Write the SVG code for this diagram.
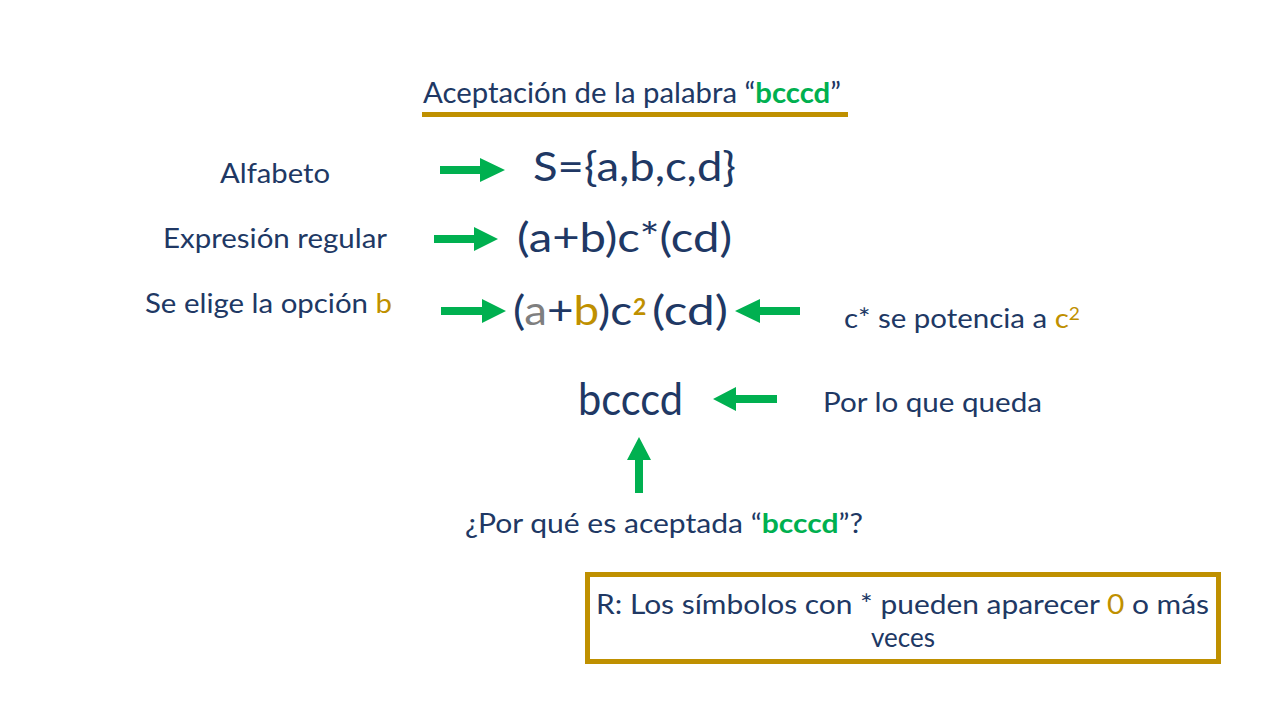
<svg xmlns="http://www.w3.org/2000/svg" width="1280" height="720" viewBox="0 0 1280 720">
<style>
text{font-family:Lato,"Open Sans","Noto Sans",sans-serif;fill:#203864}
.g{fill:#00B050}
.o{fill:#BF9000}
.gr{fill:#7F7F7F}
.b{font-weight:bold}
.arrow{fill:#00B050}
</style>
<rect width="1280" height="720" fill="#fff"/>
<g id="title">
<text x="423" y="103" font-size="28" textLength="418" lengthAdjust="spacingAndGlyphs">Aceptación de la palabra “<tspan class="g b">bcccd</tspan>”</text>
<rect x="422" y="112" width="426" height="5" fill="#BF9000"/>
</g>
<g id="alfabeto-label"><text x="220" y="183" font-size="26" textLength="110" lengthAdjust="spacingAndGlyphs">Alfabeto</text></g>
<g id="alfabeto"><text x="533" y="181" font-size="40" textLength="203" lengthAdjust="spacingAndGlyphs">S={a,b,c,d}</text></g>
<g id="expresion-label"><text x="163" y="248" font-size="26" textLength="224" lengthAdjust="spacingAndGlyphs">Expresión regular</text></g>
<g id="expresion"><text x="517" y="252" font-size="40" textLength="215" lengthAdjust="spacingAndGlyphs">(a+b)c*(cd)</text></g>
<g id="opcion-label"><text x="145" y="313" font-size="26" textLength="247" lengthAdjust="spacingAndGlyphs">Se elige la opción <tspan class="o">b</tspan></text></g>
<g id="opcion">
<text x="513" y="325" font-size="40" textLength="119" lengthAdjust="spacingAndGlyphs">(<tspan class="gr">a</tspan>+<tspan class="o">b</tspan>)c</text>
<text x="633" y="315" font-size="23" class="o b">2</text>
<text x="652" y="325" font-size="40" textLength="76" lengthAdjust="spacingAndGlyphs">(cd)</text>
</g>
<g id="potencia-label"><text x="844" y="328" font-size="26" textLength="236" lengthAdjust="spacingAndGlyphs">c* se potencia a <tspan class="o">c</tspan><tspan class="o" font-size="17" dy="-8">2</tspan></text></g>
<g id="resultado"><text x="578" y="415" font-size="44" textLength="105" lengthAdjust="spacingAndGlyphs">bcccd</text></g>
<g id="queda-label"><text x="823" y="412" font-size="26" textLength="219" lengthAdjust="spacingAndGlyphs">Por lo que queda</text></g>
<g id="pregunta"><text x="465" y="533" font-size="26" textLength="398" lengthAdjust="spacingAndGlyphs">¿Por qué es aceptada “<tspan class="g b">bcccd</tspan>”?</text></g>
<g id="respuesta">
<rect x="587.5" y="574.5" width="631" height="87" fill="#fff" stroke="#BF9000" stroke-width="5"/>
<text x="596" y="614" font-size="26" textLength="613" lengthAdjust="spacingAndGlyphs">R: Los símbolos con * pueden aparecer <tspan class="o">0</tspan> o más</text>
<text x="903" y="647" font-size="26" text-anchor="middle">veces</text>
</g>
<g id="connectors">
<polygon class="arrow" points="440,166 480,166 480,158 505,170 480,182 480,174 440,174"/>
<polygon class="arrow" points="434,235 474,235 474,227 498,239 474,251 474,243 434,243"/>
<polygon class="arrow" points="441,307 482,307 482,299 506,311 482,323 482,315 441,315"/>
<polygon class="arrow" points="800,307 760,307 760,299 735,311 760,323 760,315 800,315"/>
<polygon class="arrow" points="777,395 736,395 736,387 713,399 736,411 736,403 777,403"/>
<polygon class="arrow" points="635,493 635,460 627,460 639,437 651,460 643,460 643,493"/>
</g>
</svg>
